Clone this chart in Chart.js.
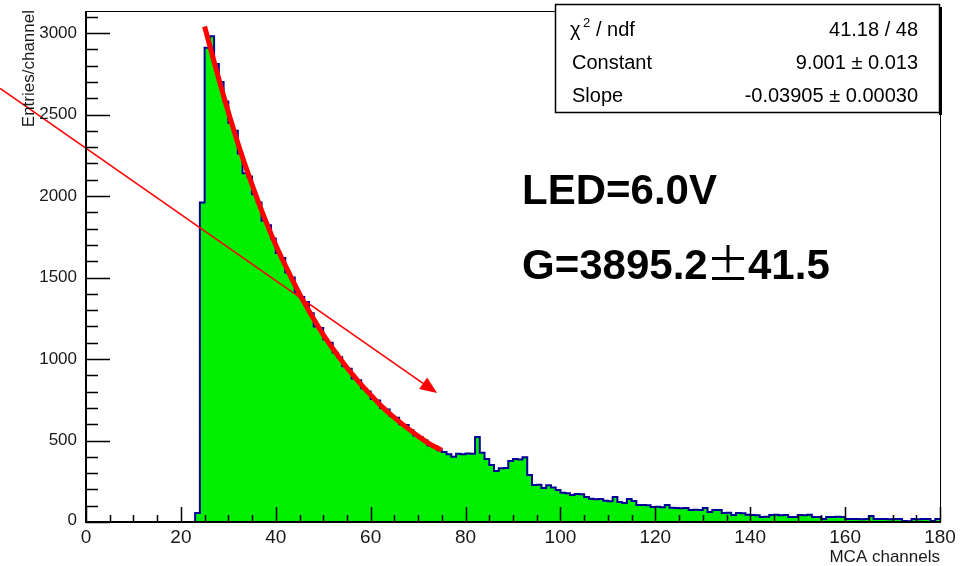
<!DOCTYPE html>
<html>
<head>
<meta charset="utf-8">
<script src="https://cdn.jsdelivr.net/npm/chart.js@4.4.0/dist/chart.umd.min.js"></script>
<style>
  html, body { margin: 0; padding: 0; background: #fff; }
</style>
</head>
<body>
<canvas id="mcaChart" width="963" height="566"></canvas>
<script>
// entries per MCA channel, bins 0..179 (width 1)
const counts = [
  0, 0, 0, 0, 0, 0, 0, 0, 0, 0,
  0, 0, 0, 0, 0, 0, 0, 0, 0, 0,
  0, 0, 0, 55, 1960, 2910, 2980, 2810, 2700, 2580,
  2450, 2400, 2260, 2140, 2120, 2010, 1960, 1850, 1820, 1740,
  1650, 1620, 1530, 1500, 1410, 1380, 1350, 1280, 1200, 1190,
  1120, 1100, 1040, 1010, 955, 940, 880, 870, 820, 800,
  755, 745, 700, 690, 650, 640, 600, 595, 565, 530,
  520, 500, 470, 465, 440, 430, 415, 400, 418, 415,
  420, 418, 522, 425, 386, 350, 313, 330, 332, 374,
  386, 384, 398, 288, 227, 228, 208, 226, 212, 196,
  180, 176, 166, 172, 170, 153, 142, 140, 141, 130,
  128, 153, 123, 116, 141, 129, 104, 105, 103, 92,
  93, 91, 104, 87, 86, 85, 86, 74, 75, 73,
  86, 61, 74, 73, 55, 56, 43, 55, 54, 44,
  43, 42, 31, 32, 43, 44, 42, 43, 31, 30,
  43, 42, 44, 31, 30, 18, 31, 30, 32, 31,
  18, 19, 18, 17, 18, 37, 18, 19, 18, 17,
  18, 19, 6, 5, 18, 17, 19, 18, 6, 18
];

// exponential fit
const fitX = [25, 27.5, 30, 32.5, 35, 37.5, 40, 42.5, 45, 47.5, 50, 52.5, 55, 57.5, 60, 62.5, 65, 67.5, 70, 72.5, 75];
const fitY = [3040, 2770, 2515, 2280, 2070, 1875, 1700, 1545, 1400, 1270, 1150, 1045, 947, 860, 780, 705, 640, 582, 527, 478, 440];

const xMajorTicks = [0, 20, 40, 60, 80, 100, 120, 140, 160, 180];
const yMajorTicks = [0, 500, 1000, 1500, 2000, 2500, 3000];

const statsRows = [
  ['χ2 / ndf', '41.18 / 48'],
  ['Constant', '9.001 ± 0.013'],
  ['Slope', '-0.03905 ± 0.00030']
];

const arrowFrom = { x: -18.1, y: 2660 };
const arrowTo = { x: 74.0, y: 791 };

const histPoints = counts.map((v, i) => ({ x: i, y: v }));
histPoints.push({ x: counts.length, y: counts[counts.length - 1] });
const fitPoints = fitX.map((x, i) => ({ x: x, y: fitY[i] }));

const FONT = '"Liberation Sans", Arial, sans-serif';

const rootStyle = {
  id: 'rootStyle',
  afterDatasetsDraw(chart) {
    const { ctx, chartArea: a, scales: { x, y } } = chart;
    ctx.save();

    // arrow
    const x0 = x.getPixelForValue(arrowFrom.x), y0 = y.getPixelForValue(arrowFrom.y);
    const x1 = x.getPixelForValue(arrowTo.x), y1 = y.getPixelForValue(arrowTo.y);
    const ang = Math.atan2(y1 - y0, x1 - x0);
    ctx.strokeStyle = '#ff0000';
    ctx.fillStyle = '#ff0000';
    ctx.lineWidth = 1.6;
    ctx.beginPath();
    ctx.moveTo(x0, y0);
    ctx.lineTo(x1 - 14 * Math.cos(ang), y1 - 14 * Math.sin(ang));
    ctx.stroke();
    ctx.beginPath();
    ctx.moveTo(x1, y1);
    ctx.lineTo(x1 - 17 * Math.cos(ang) + 7 * Math.sin(ang), y1 - 17 * Math.sin(ang) - 7 * Math.cos(ang));
    ctx.lineTo(x1 - 17 * Math.cos(ang) - 7 * Math.sin(ang), y1 - 17 * Math.sin(ang) + 7 * Math.cos(ang));
    ctx.closePath();
    ctx.fill();

    // frame
    ctx.strokeStyle = '#000';
    ctx.lineWidth = 1;
    ctx.strokeRect(a.left + 0.5, a.top + 0.5, a.right - a.left, a.bottom - a.top);
    ctx.lineWidth = 2;
    ctx.beginPath();
    ctx.moveTo(a.left, a.top);
    ctx.lineTo(a.left, a.bottom);
    ctx.lineTo(a.right, a.bottom);
    ctx.stroke();

    // x ticks
    ctx.lineWidth = 1.5;
    ctx.beginPath();
    for (let v = 0; v <= 180; v += 5) {
      const px = Math.round(x.getPixelForValue(v)) + 0.5;
      const len = v % 20 === 0 ? 15 : 7;
      ctx.moveTo(px, a.bottom);
      ctx.lineTo(px, a.bottom - len);
    }
    // y ticks
    for (let v = 0; v <= 3100; v += 100) {
      const py = Math.round(y.getPixelForValue(v)) + 0.5;
      const len = v % 500 === 0 ? 24 : 12;
      ctx.moveTo(a.left, py);
      ctx.lineTo(a.left + len, py);
    }
    ctx.stroke();

    ctx.fillStyle = '#1a1a1a';
    ctx.font = '19px ' + FONT;
    ctx.textAlign = 'center';
    ctx.textBaseline = 'top';
    xMajorTicks.forEach(v => ctx.fillText(String(v), x.getPixelForValue(v), a.bottom + 6));
    ctx.font = '17px ' + FONT;
    ctx.textAlign = 'right';
    ctx.textBaseline = 'middle';
    yMajorTicks.forEach(v => ctx.fillText(String(v), a.left - 9, y.getPixelForValue(v) - (v === 0 ? 2 : 0)));

    // axis titles
    ctx.font = '17px ' + FONT;
    ctx.textAlign = 'right';
    ctx.textBaseline = 'alphabetic';
    ctx.fillText('MCA channels', a.right, 562);
    ctx.save();
    ctx.translate(34, a.top - 1);
    ctx.rotate(-Math.PI / 2);
    ctx.fillText('Entries/channel', 0, 0);
    ctx.restore();

    // stats box
    const bx = 555, by = 4, bw = 384, bh = 108;
    ctx.fillStyle = '#000';
    ctx.fillRect(bx + bw, by + 3, 3, bh);
    ctx.fillStyle = '#fff';
    ctx.fillRect(bx, by, bw, bh);
    ctx.strokeStyle = '#000';
    ctx.lineWidth = 1.5;
    ctx.strokeRect(bx + 0.5, by + 0.5, bw, bh);
    ctx.fillStyle = '#000';
    ctx.font = '20px ' + FONT;
    const rowY = [36, 69, 102];
    statsRows.forEach((row, i) => {
      ctx.textAlign = 'left';
      if (i === 0) {
        ctx.fillText('χ', 570, rowY[i]);
        ctx.font = '13px ' + FONT;
        ctx.fillText('2', 583, rowY[i] - 9);
        ctx.font = '20px ' + FONT;
        ctx.fillText('/ ndf', 596, rowY[i]);
      } else {
        ctx.fillText(row[0], 572, rowY[i]);
      }
      ctx.textAlign = 'right';
      ctx.fillText(row[1], 918, rowY[i]);
    });

    // annotations
    ctx.textAlign = 'left';
    ctx.font = 'bold 42px ' + FONT;
    ctx.fillText('LED=6.0V', 522, 204);
    ctx.fillText('G=3895.2', 522, 279);
    ctx.font = '44px "Noto Sans CJK JP", ' + FONT;
    ctx.fillText('±', 706, 281);
    ctx.font = 'bold 42px ' + FONT;
    ctx.fillText('41.5', 748, 279);

    ctx.restore();
  }
};

new Chart(document.getElementById('mcaChart'), {
  type: 'line',
  data: {
    datasets: [
      {
        label: 'Fit',
        data: fitPoints,
        borderColor: '#ff0000',
        borderWidth: 5,
        cubicInterpolationMode: 'monotone',
        fill: false,
        pointRadius: 0
      },
      {
        label: 'Histogram',
        data: histPoints,
        stepped: true,
        borderColor: '#000099',
        borderWidth: 2,
        backgroundColor: '#00ee00',
        fill: 'origin',
        pointRadius: 0
      }
    ]
  },
  options: {
    responsive: false,
    animation: false,
    layout: { padding: { left: 86, top: 11, right: 23, bottom: 44 } },
    plugins: {
      legend: { display: false },
      tooltip: { enabled: false }
    },
    scales: {
      x: { type: 'linear', min: 0, max: 180, display: false },
      y: { type: 'linear', min: 0, max: 3135, display: false }
    }
  },
  plugins: [rootStyle]
});
</script>
</body>
</html>
